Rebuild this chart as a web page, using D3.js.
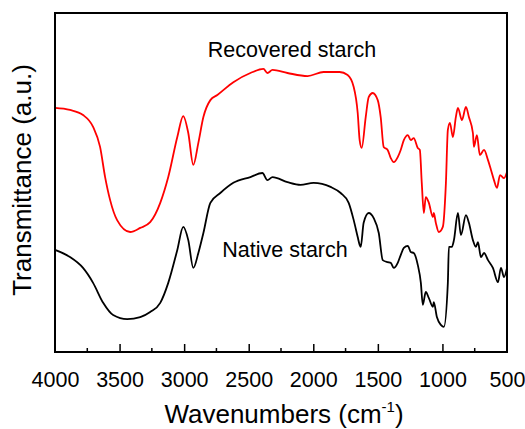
<!DOCTYPE html>
<html>
<head>
<meta charset="utf-8">
<script src="https://cdn.jsdelivr.net/npm/d3@7"></script>
<style>
  body { margin: 0; background: #fff; }
  text { font-family: Arial, "Liberation Sans", Helvetica, sans-serif; fill: #000; }
</style>
</head>
<body>
<svg id="chart" width="525" height="429"></svg>
<script>
// wavenumber (cm-1) and transmittance (a.u.)
var recoveredWn = [4000, 3884, 3783, 3705, 3651, 3612, 3573, 3519, 3418, 3340, 3263, 3185, 3123, 3053, 3007, 2968, 2929, 2890, 2851, 2797, 2743, 2619, 2487, 2386, 2355, 2316, 2200, 2044, 1920, 1796, 1734, 1687, 1656, 1641, 1625, 1594, 1571, 1540, 1501, 1478, 1455, 1424, 1400, 1377, 1346, 1323, 1299, 1268, 1245, 1222, 1191, 1175, 1160, 1144, 1129, 1105, 1074, 1067, 1051, 1028, 997, 973, 958, 942, 919, 896, 880, 849, 818, 795, 764, 756, 733, 710, 678, 647, 624, 601, 578, 554, 523, 500]
var recoveredT = [72.0, 71.4, 69.9, 66.4, 60.5, 51.6, 44.8, 38.9, 35.4, 36.6, 38.3, 44.0, 51.6, 63.4, 69.6, 64.6, 55.2, 61.7, 69.3, 74.3, 75.8, 79.6, 82.3, 83.5, 82.3, 83.2, 82.3, 81.4, 82.6, 82.6, 81.7, 78.2, 70.5, 62.5, 60.2, 69.3, 75.2, 76.4, 74.3, 69.3, 60.5, 59.6, 57.2, 56.0, 57.5, 59.6, 62.5, 64.0, 62.5, 63.1, 60.2, 59.6, 49.9, 41.0, 45.7, 44.0, 39.8, 41.0, 38.1, 35.4, 36.9, 49.9, 65.5, 67.6, 63.4, 69.3, 72.0, 68.4, 72.3, 69.3, 64.6, 60.5, 64.0, 58.1, 59.6, 56.6, 53.7, 50.7, 48.4, 52.2, 51.3, 53.1]

var nativeWn = [4000, 3884, 3783, 3705, 3627, 3550, 3441, 3340, 3263, 3185, 3123, 3053, 3007, 2968, 2929, 2890, 2851, 2797, 2720, 2619, 2487, 2394, 2355, 2316, 2200, 2099, 1998, 1866, 1788, 1726, 1687, 1656, 1641, 1633, 1610, 1571, 1532, 1493, 1462, 1424, 1400, 1377, 1346, 1323, 1299, 1268, 1245, 1222, 1191, 1167, 1152, 1129, 1105, 1074, 1067, 1043, 1012, 989, 958, 950, 927, 911, 880, 857, 818, 795, 764, 741, 725, 702, 678, 647, 609, 570, 547, 523, 500]
var nativeT = [30.1, 28.0, 24.8, 20.4, 14.5, 10.9, 9.7, 10.3, 11.8, 14.5, 20.4, 30.1, 36.9, 33.0, 24.8, 29.2, 35.1, 44.0, 46.9, 49.9, 51.6, 52.8, 50.7, 51.6, 50.1, 49.3, 49.9, 48.7, 46.9, 44.0, 38.9, 33.9, 31.6, 31.0, 38.1, 41.0, 39.5, 35.1, 27.1, 26.5, 26.3, 24.8, 26.3, 28.6, 30.7, 31.3, 29.5, 29.2, 25.7, 20.4, 13.9, 17.7, 15.9, 13.3, 14.7, 10.3, 8.0, 7.4, 20.4, 31.0, 31.0, 33.0, 41.0, 34.5, 40.4, 38.1, 33.0, 31.0, 32.4, 28.0, 29.2, 27.1, 24.8, 20.6, 24.8, 22.1, 24.8]

var seriesNames = ['Recovered starch', 'Native starch']
var seriesColors = ['#ff0000', '#000000']
var xMajorTicks = [4000, 3500, 3000, 2500, 2000, 1500, 1000, 500]
var xMinorTicks = [3750, 3250, 2750, 2250, 1750, 1250, 750]

var margin = {top: 13, left: 55, right: 18, bottom: 77}
var width = 525, height = 429
var svg = d3.select('#chart')

var x = d3.scaleLinear().domain([4000, 500]).range([margin.left, width - margin.right])
var y = d3.scaleLinear().domain([0, 100]).range([height - margin.bottom, margin.top])

var series = [
  {name: seriesNames[0], color: seriesColors[0], pts: recoveredWn.map((w, i) => ({w, t: recoveredT[i]}))},
  {name: seriesNames[1], color: seriesColors[1], pts: nativeWn.map((w, i) => ({w, t: nativeT[i]}))}
]

var line = d3.line()
  .x(d => x(d.w))
  .y(d => y(d.t))
  .curve(d3.curveMonotoneX)

svg.selectAll('path.spec')
  .data(series)
  .join('path')
  .attr('class', 'spec')
  .attr('fill', 'none')
  .attr('stroke', d => d.color)
  .attr('stroke-width', 1.8)
  .attr('stroke-linejoin', 'round')
  .attr('d', d => line(d.pts))

// frame
svg.append('rect')
  .attr('x', x(4000)).attr('y', y(100))
  .attr('width', x(500) - x(4000)).attr('height', y(0) - y(100))
  .attr('fill', 'none').attr('stroke', '#000').attr('stroke-width', 2)

// bottom axis, ticks pointing inward
var xAxis = svg.append('g').attr('transform', `translate(0,${y(0)})`)
xAxis.call(d3.axisBottom(x).tickValues(xMajorTicks).tickFormat(d3.format('d'))
  .tickSizeInner(-8).tickSizeOuter(0).tickPadding(20))
xAxis.select('.domain').remove()
xAxis.selectAll('line').attr('stroke', '#000').attr('stroke-width', 1.5)
xAxis.selectAll('text').attr('font-size', 21.5).attr('dy', '0.71em')
  .attr('font-family', 'Arial, "Liberation Sans", sans-serif')
xAxis.selectAll('.tick').filter(d => d === 4000 || d === 500).select('line').remove()

svg.append('g').selectAll('line')
  .data(xMinorTicks)
  .join('line')
  .attr('x1', d => x(d)).attr('x2', d => x(d))
  .attr('y1', y(0)).attr('y2', y(0) - 4)
  .attr('stroke', '#000').attr('stroke-width', 1.5)

// axis titles
var xt = svg.append('text')
  .attr('x', 284).attr('y', 423)
  .attr('text-anchor', 'middle')
  .attr('font-size', 26)
xt.append('tspan').text('Wavenumbers (cm')
xt.append('tspan').text('-1').attr('font-size', 15).attr('dy', -11)
xt.append('tspan').text(')').attr('dy', 11)

svg.append('text')
  .attr('transform', 'translate(31,180) rotate(-90)')
  .attr('text-anchor', 'middle')
  .attr('font-size', 26)
  .text('Transmittance (a.u.)')

// curve labels
svg.append('text').attr('x', 292).attr('y', 57).attr('text-anchor', 'middle')
  .attr('font-size', 21.5).text(seriesNames[0])
svg.append('text').attr('x', 285).attr('y', 257).attr('text-anchor', 'middle')
  .attr('font-size', 21.5).text(seriesNames[1])
</script>
</body>
</html>
